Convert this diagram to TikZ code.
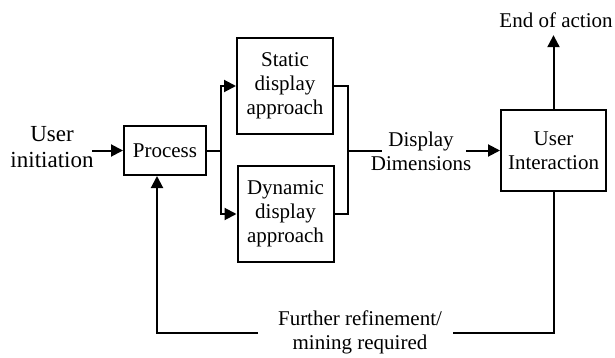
\documentclass[tikz,border=0pt]{standalone}
\usepackage{fontspec}
\setmainfont{Liberation Serif}
\usetikzlibrary{arrows.meta}

\def\dY{150.5}

\begin{document}
\begin{tikzpicture}[x=0.5pt, y=-0.5pt, line width=1pt,
    >={Triangle[length=6pt,width=6pt]},
    font=\fontsize{10.5}{12}\selectfont]
    \useasboundingbox (0,0) rectangle (615,358);

    %%   (lable)  (x, y)
    \coordinate (CU)  at ( 92, \dY);
    \coordinate (CS)  at (221, \dY);
    \coordinate (CM)  at (348, \dY);
    \coordinate (CD1) at (382, \dY);
    \coordinate (CD2) at (466, \dY);
    \coordinate (CF1) at (258, 333);
    \coordinate (CF2) at (453, 333);

    \node[align=center, inner sep=0pt, font=\fontsize{11.5}{13}\selectfont] (UIn) at (52, 147) {User\\initiation};

    \node[shape=rectangle,draw=black, minimum width=41pt, minimum height=24.5pt] (P)  at (165, \dY) {Process};

    \node[shape=rectangle,draw=black, minimum width=48pt, minimum height=48pt, align=center] (S1) at (285,  86) {Static\\display\\approach};
    \node[shape=rectangle,draw=black, minimum width=48pt, minimum height=48pt, align=center] (S2) at (285.5, 214) {Dynamic\\display\\approach};

    \node[align=center] (DD) at (421, 151) {Display\\Dimensions};

    \node[shape=rectangle,draw=black, minimum width=52.5pt, minimum height=40.5pt, align=center] (UI) at (553.5, \dY) {User\\Interaction};

    \node (E) at (556, 20) {End of action};
    \node[align=center] (F) at (360, 332) {Further refinement/\\mining required};

    \draw[->] (CU) -- (P);
    \draw (P.east) -- (CS);
    \draw[->] (CS) |- (S1.west);
    \draw[->] (CS) |- (S2.west);

    \draw (S1.east) -| (CM) |- (S2.east);
    \draw (CM) -- (CD1);
    \draw[->] (CD2) -- (UI.west);

    \draw[->] (UI.north) -- (UI.north |- E.south);

    \draw (UI.south) |- (CF2);
    \draw[->] (CF1) -| ([xshift=-4pt]P.south);

\end{tikzpicture}
\end{document}
